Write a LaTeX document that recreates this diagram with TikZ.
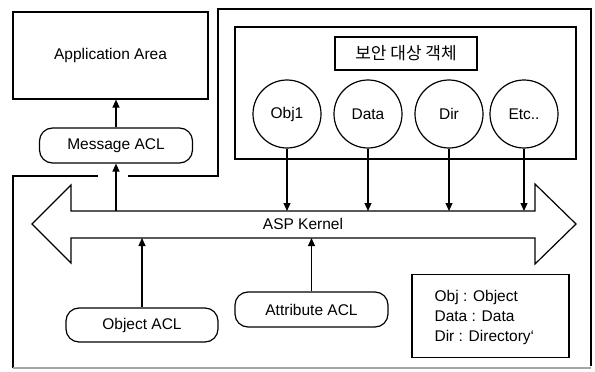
\documentclass[tikz,border=0pt]{standalone}
\usepackage{fontspec}
\setmainfont{Liberation Sans}
\newfontfamily\krfont{Noto Sans CJK KR}
\usetikzlibrary{arrows.meta}
\begin{document}
\begin{tikzpicture}[x=1pt,y=-1pt,line width=1.2pt,
  every node/.style={font=\fontsize{15.5}{20}\selectfont},
  box/.style={draw,rectangle,inner sep=0pt},
  acl/.style={draw,rounded corners=13pt,minimum width=153pt,minimum height=35pt,inner sep=0pt},
  obj/.style={draw,circle,minimum size=68pt,inner sep=0pt},
  arr/.style={-{Triangle[length=8pt,width=7pt]}}]
\useasboundingbox (0,0) rectangle (595,372);
% outer frame
\draw (98,176) -- (13,176) -- (13,368);
\draw (128,176) -- (218,176) -- (218,9) -- (591,9) -- (591,366);
\draw[black!35] (13,368) -- (591,368);
% application area
\node[box,minimum width=195pt,minimum height=87pt] (app) at (110.5,55.5) {Application Area};
\node[acl] (msg) at (116,145.5) {Message ACL};
% security object box
\node[box,minimum width=341pt,minimum height=132pt] (inner) at (405.5,93) {};
\node[box,minimum width=142pt,minimum height=33pt,font=\krfont\fontsize{17}{20}\selectfont] (kor) at (406,53.5) {보안 대상 객체};
\node[obj] (c1) at (287,114) {Obj1};
\node[obj] (c2) at (368,114) {Data};
\node[obj] (c3) at (449,114) {Dir};
\node[obj] (c4) at (524,114) {Etc..};
% kernel double arrow
\draw (32,224) -- (71,185) -- (71,211) -- (535,211) -- (535,184) -- (576,224)
  -- (535,264) -- (535,238) -- (71,238) -- (71,263) -- cycle;
\coordinate (kt) at (0,211);
\coordinate (kb) at (0,238);
\node (asp) at (303,224) {ASP Kernel};
% ACL boxes
\node[acl,minimum width=152pt,minimum height=34pt] (oacl) at (142,325) {Object ACL};
\node[acl] (aacl) at (311.5,309.5) {Attribute ACL};
% legend
\node[box,minimum width=157pt,minimum height=83pt] (leg) at (490.5,316) {};
\node[align=left,anchor=west,inner sep=0pt] (legtxt) at (434,317) {Obj : Object\\Data : Data\\Dir : Directory`};
% connectors
\draw[arr] (msg.north) -- (msg.north |- app.south);
\draw[arr] (msg.south |- kt) -- (msg.south);
\foreach \c in {c1,c2,c3,c4} \draw[arr] (\c) -- (\c |- kt);
\draw[arr] (oacl.north) -- (oacl.north |- kb);
\draw[arr] (aacl.north) -- (aacl.north |- kb);
\end{tikzpicture}
\end{document}
